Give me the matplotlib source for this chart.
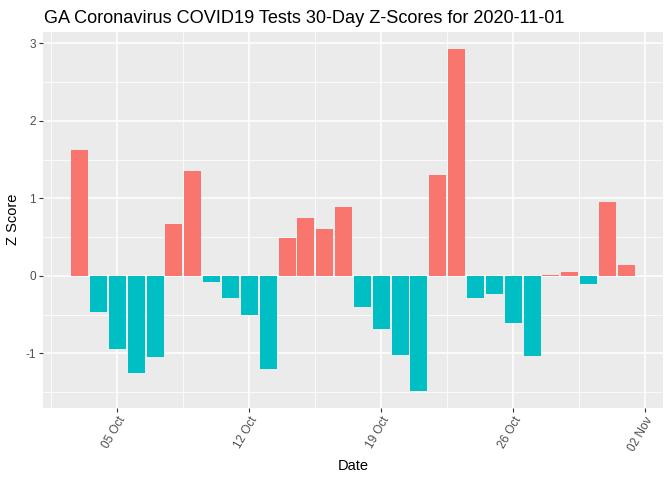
import matplotlib
matplotlib.use("Agg")
import matplotlib.pyplot as plt
import matplotlib.dates as mdates
import numpy as np
import pandas as pd

dates = pd.date_range("2020-10-03", "2020-11-01", freq="D")
zscores = [1.62, -0.47, -0.94, -1.25, -1.04, 0.67, 1.35, -0.08, -0.29, -0.50,
           -1.20, 0.49, 0.75, 0.61, 0.89, -0.40, -0.68, -1.02, -1.48, 1.30,
           2.93, -0.29, -0.23, -0.61, -1.03, 0.01, 0.05, -0.11, 0.95, 0.14]
title = "GA Coronavirus COVID19 Tests 30-Day Z-Scores for 2020-11-01"
xtick_dates = pd.to_datetime(["2020-10-05", "2020-10-12", "2020-10-19", "2020-10-26", "2020-11-02"])
ytick_vals = [-1, 0, 1, 2, 3]

plt.rcParams['font.family'] = ['Liberation Sans', 'DejaVu Sans']

fig = plt.figure(figsize=(6.72, 4.8), dpi=100)
ax = fig.add_axes([43/672, 1-407.7/480, (663-43)/672, (407.7-31.7)/480])
ax.set_facecolor("#EBEBEB")

colors = ["#F8766D" if v > 0 else "#00BFC4" for v in zscores]
xnum = mdates.date2num(dates)
ax.bar(xnum, zscores, width=0.9, color=colors, zorder=3)

# limits with ggplot-like expansion
lo, hi = xnum[0] - 0.45, xnum[-1] + 0.45
pad = (hi - lo) * 0.05
ax.set_xlim(lo - pad, hi + pad)
ymin, ymax = min(zscores), max(zscores)
yp = (ymax - ymin) * 0.05
ax.set_ylim(ymin - yp, ymax + yp)

xt = mdates.date2num(xtick_dates)
ax.set_xticks(xt)
ax.set_xticklabels([d.strftime("%d %b") for d in xtick_dates], rotation=60,
                   ha="right", va="top", rotation_mode="anchor", fontsize=8.5, color="#4D4D4D")
minor_x = list(xt - 3.5)
ax.set_xticks(minor_x, minor=True)
ax.set_yticks(ytick_vals)
ax.set_yticklabels([str(v) for v in ytick_vals], fontsize=8.5, color="#4D4D4D")
ax.set_yticks([-1.5, -0.5, 0.5, 1.5, 2.5], minor=True)

ax.grid(which="major", color="white", linewidth=1.1, zorder=1)
ax.grid(which="minor", color="white", linewidth=0.55, zorder=1)
ax.set_axisbelow(True)
ax.tick_params(which="major", length=3, width=0.8, color="#333333", pad=2)
ax.tick_params(which="minor", length=0)
for s in ax.spines.values():
    s.set_visible(False)

ax.set_xlabel("Date", fontsize=10.5, color="black", labelpad=4)
ax.set_ylabel("Z Score", fontsize=10.5, color="black", labelpad=4)
fig.text(44/672, 1-23/480, title, fontsize=13.1, color="black", ha="left", va="baseline")

fig.savefig("out.png", dpi=100)
